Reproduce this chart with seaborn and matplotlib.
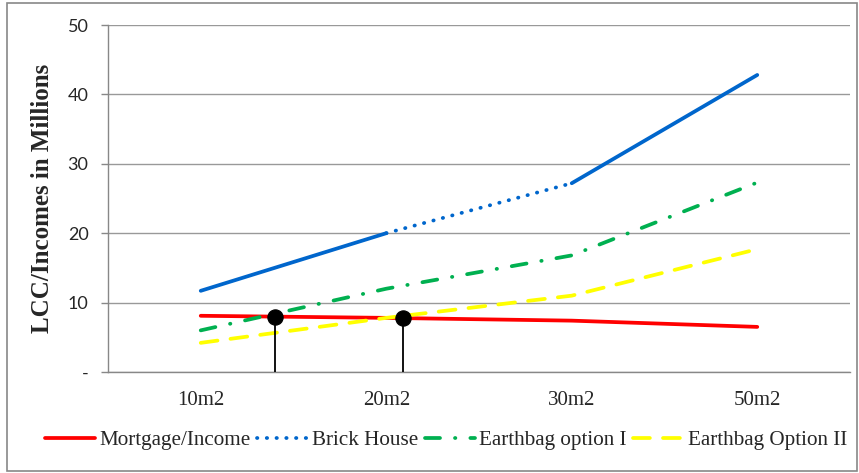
import numpy as np
import seaborn as sns
import matplotlib.pyplot as plt
from matplotlib.lines import Line2D
from matplotlib.patches import Rectangle

sizes = ["10m2", "20m2", "30m2", "50m2"]
mortgage = [8.1, 7.8, 7.4, 6.5]
brick = [11.7, 20.0, 27.2, 42.8]
earthbag1 = [6.0, 12.0, 16.8, 27.3]
earthbag2 = [4.2, 7.8, 11.0, 17.7]
# intersection markers (position along the category axis, value)
cross_x = [0.40, 1.09]
cross_y = [7.9, 7.8]

sns.set_style("white")
plt.rcParams['font.family'] = ['Liberation Serif', 'DejaVu Sans']

fig = plt.figure(figsize=(8.59, 4.73), dpi=100)
ax = fig.add_axes([108/859, 101/473, 742/859, 347/473])
xpos = np.arange(len(sizes))

lw = 2.7
dot = (0, (0.1, 2.5))
dashdot = (0, (4, 4, 0.1, 4))
dash = (0, (4.5, 3.5))
sns.lineplot(x=xpos, y=mortgage, ax=ax, color="#FF0000", lw=lw, solid_capstyle="round")
sns.lineplot(x=xpos[0:2], y=brick[0:2], ax=ax, color="#0066CC", lw=lw, solid_capstyle="round")
sns.lineplot(x=xpos[1:3], y=brick[1:3], ax=ax, color="#0066CC", lw=lw,
             linestyle=dot, dash_capstyle="round")
sns.lineplot(x=xpos[2:4], y=brick[2:4], ax=ax, color="#0066CC", lw=lw, solid_capstyle="round")
sns.lineplot(x=xpos, y=earthbag1, ax=ax, color="#00B050", lw=lw,
             linestyle=dashdot, dash_capstyle="round")
sns.lineplot(x=xpos, y=earthbag2, ax=ax, color="#FFFF00", lw=lw,
             linestyle=dash, dash_capstyle="round")

for cx, cy in zip(cross_x, cross_y):
    ax.plot([cx, cx], [0, cy], color="black", lw=1.3, zorder=4)
sns.scatterplot(x=cross_x, y=cross_y, ax=ax, color="black", s=120, zorder=5, edgecolor="black")

ax.set_xlim(-0.5, len(sizes) - 0.5)
ax.set_ylim(0, 50)
ax.set_yticks(range(0, 51, 10))
ax.set_yticklabels(["-"] + [str(v) for v in range(10, 51, 10)], family="Lato", fontsize=13)
ax.set_xticks(xpos)
ax.set_xticklabels(sizes, fontsize=15)
ax.set_xticks(np.arange(-0.5, len(sizes)), minor=True)
ax.tick_params(axis="x", which="major", length=0, pad=14)
ax.tick_params(axis="x", which="minor", direction="in", length=5, color="#888888", width=1)
ax.tick_params(axis="y", length=5, color="#888888", width=1, pad=9, left=True)
ax.grid(axis="y", color="#999999", lw=1)
ax.set_axisbelow(True)
for s in ["top", "right"]:
    ax.spines[s].set_visible(False)
for s in ["left", "bottom"]:
    ax.spines[s].set_color("#888888")
    ax.spines[s].set_linewidth(1)
ax.set_ylabel("LCC/Incomes in Millions", fontsize=18, fontweight="bold", labelpad=10)

handles = [
    Line2D([], [], color="#FF0000", lw=lw),
    Line2D([], [], color="#0066CC", lw=lw, linestyle=dot, dash_capstyle="round"),
    Line2D([], [], color="#00B050", lw=lw, linestyle=dashdot, dash_capstyle="round"),
    Line2D([], [], color="#FFFF00", lw=lw, linestyle=dash, dash_capstyle="round"),
]
labels = ["Mortgage/Income", "Brick House", "Earthbag option I", "Earthbag Option II"]
fig.legend(handles, labels, loc="center", bbox_to_anchor=(446/859, 33/473), ncol=4,
           frameon=False, fontsize=15.2, handlelength=2.4, handletextpad=0.2, columnspacing=0.3)

fig.patches.append(Rectangle((7/859, 2/473), 850/859, 468/473, transform=fig.transFigure,
                             fill=False, edgecolor="#888888", lw=1.2))

fig.savefig("out.png", dpi=100)
